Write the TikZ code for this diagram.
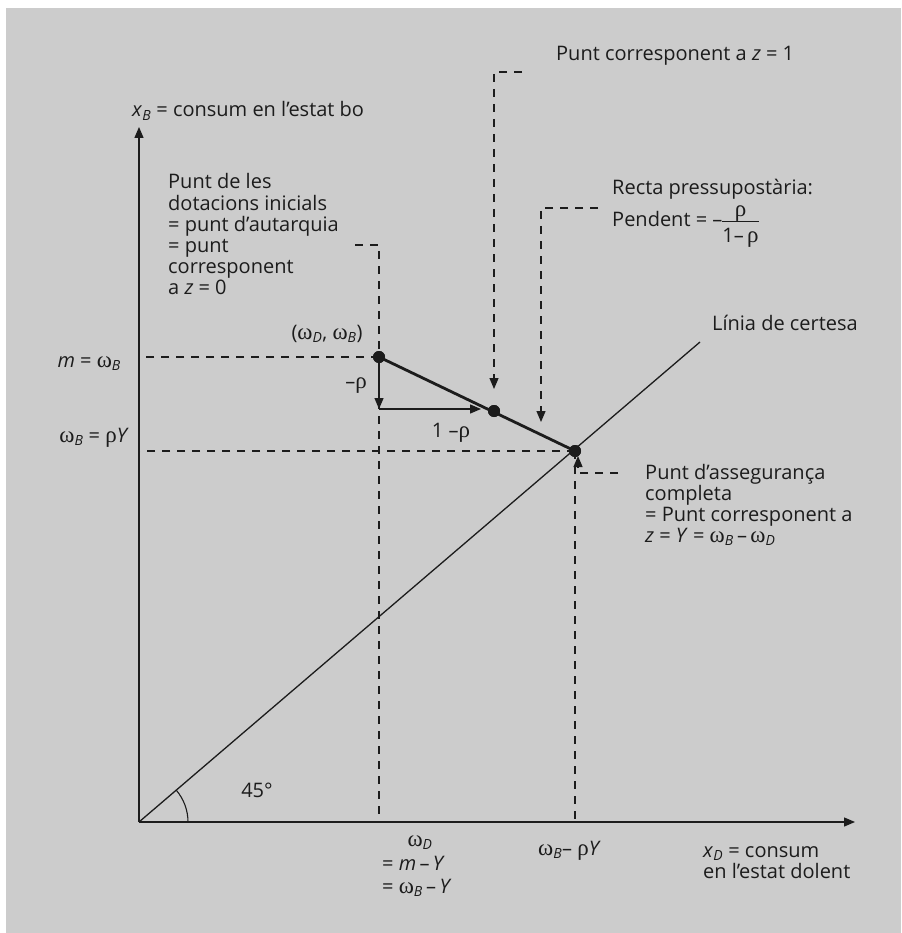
\documentclass[tikz,border=0pt]{standalone}
\usepackage{amsmath}
\usepackage{fontspec}
\setmainfont{Open Sans}
\newfontfamily\grk[Scale=1.15]{Liberation Serif}
\usetikzlibrary{arrows.meta,calc}
\definecolor{bg}{RGB}{204,204,204}
\definecolor{ink}{RGB}{28,28,28}
\newcommand\subi[1]{\textsubscript{\itshape #1}}
\newcommand\om{{\grk ω}}
\newcommand\rh{{\grk ρ}}
\newcommand\mn{\,–\,}
\newcommand\slopefrac{\raisebox{-16pt}{\renewcommand\arraystretch{0.75}\setlength\arrayrulewidth{0.9pt}\begin{tabular}[b]{@{}c@{}}\rh\\\hline\rule{0pt}{20pt}1–\,\rh\end{tabular}}}
\begin{document}
\begin{tikzpicture}[x=1pt,y=-1pt,
  txt/.style={font=\fontsize{20}{21}\selectfont, text=ink, inner sep=0pt, align=left},
  axisline/.style={draw=ink, line width=1.3pt},
  dsh/.style={draw=ink, line width=1.2pt, dash pattern=on 8pt off 7pt},
  tip/.style={-{Triangle[length=11pt,width=9pt]}},
  budget/.style={draw=ink, line width=2.8pt},
  dot/.style={circle, fill=ink, minimum size=12pt, inner sep=0pt},
  angarc/.style={draw=ink, line width=1.1pt}]
\fill[white] (0,0) rectangle (901,933);
\fill[bg] (6,8) rectangle (901,933);
\useasboundingbox (0,0) rectangle (901,933);

% coordinates
\coordinate (O) at (139,822);
\coordinate (Ytop) at (139,127);
\coordinate (Xend) at (855,822);
\coordinate (C) at (700,342);
\coordinate (T) at (379,409);
\coordinate (Th) at (481,409);
\coordinate (L0) at (355,245);
\coordinate (L1) at (522,72);
\coordinate (L1t) at (494,389);
\coordinate (L2) at (598,208);
\coordinate (L2t) at (541,422);
\coordinate (L3) at (618,473);
\coordinate (L3t) at (578,456);

% dashed guide lines
\draw[dsh] (379,357) -- (139,357);
\draw[dsh] (575,451) -- (139,451);
\draw[dsh] (L0) -| (379,822);
\draw[dsh] (575,451) -- (575,822);
\draw[dsh, tip] (L1) -| (L1t);
\draw[dsh, tip] (L2) -| (L2t);
\draw[dsh, tip] (L3) -| (L3t);

% axes
\draw[axisline, tip] (O) -- (Ytop);
\draw[axisline, tip] (O) -- (Xend);

% certainty line
\draw[draw=ink, line width=1.3pt] (O) -- (C);
\draw[angarc] (188,822) arc[start angle=0, end angle=40.6, radius=49pt];

% budget line and points
\node[dot] (E) at (379,357) {};
\node[dot] (F) at (575,451) {};
\node[dot] (Z1) at (494,411) {};
\draw[budget] (E.center) -- (F.center);
\node[dot] at (E) {};
\node[dot] at (F) {};
\node[dot] at (Z1) {};

% slope triangle
\draw[axisline, tip] (E.center) -- (T);
\draw[axisline, tip] (T) -- (Th);

% labels
\node[txt, anchor=base west] (xb) at (132,117) {\textit{x}\subi{B} = consum en l’estat bo};
\node[txt, anchor=base west] (z0) at (168,294) {Punt de les\\dotacions inicials\\= punt d’autarquia\\= punt\\corresponent\\a \textit{z} = 0};
\node[txt, anchor=base west] (z1) at (556,61) {Punt corresponent a \textit{z} = 1};
\node[txt, anchor=base west] (rp) at (612,195) {Recta pressupostària:};
\node[txt, anchor=base west] (pd) at (612,226) {Pendent = –\slopefrac};
\node[txt, anchor=base west] (lc) at (712,330) {Línia de certesa};
\node[txt, anchor=base] (wdb) at (327,339) {(\om\subi{D}, \om\subi{B})};
\node[txt, anchor=base] (mr) at (356,388) {–\rh};
\node[txt, anchor=base] (omr) at (451,437) {1 –\rh};
\node[txt, anchor=base east] (mwb) at (121,367) {\textit{m} = \om\subi{B}};
\node[txt, anchor=base east] (wbry) at (129,442) {\om\subi{B} = \rh\textit{Y}};
\node[txt, anchor=base west] (fi) at (645,542) {Punt d’assegurança\\completa\\= Punt corresponent a\\\textit{z} = \textit{Y} = \om\subi{B}\mn\om\subi{D}};
\node[txt, anchor=base] (a45) at (257,797) {45°};
\node[txt, anchor=base] (wd) at (420,846) {\om\subi{D}};
\node[txt, anchor=base west] (wd2) at (382,893) {= \textit{m}\mn\textit{Y}\\[2pt]= \om\subi{B}\mn\textit{Y}};
\node[txt, anchor=base west] (wbry2) at (538,855) {\om\subi{B}– \rh\textit{Y}};
\node[txt, anchor=base west] (xd) at (703,878) {\textit{x}\subi{D} = consum\\en l’estat dolent};
\end{tikzpicture}
\end{document}
